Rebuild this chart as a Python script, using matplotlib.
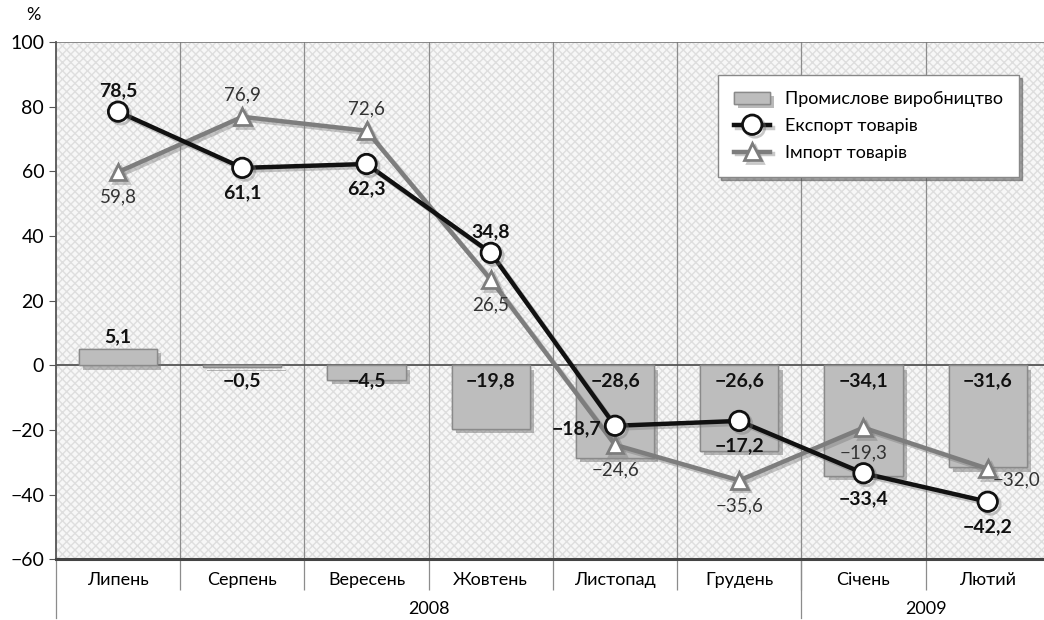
import matplotlib.pyplot as plt
import matplotlib.patheffects as pe
from matplotlib.patches import Rectangle
from matplotlib.transforms import blended_transform_factory

plt.rcParams['font.family'] = ['Lato', 'DejaVu Sans']

months = ['Липень', 'Серпень', 'Вересень', 'Жовтень', 'Листопад', 'Грудень', 'Січень', 'Лютий']
industry = [5.1, -0.5, -4.5, -19.8, -28.6, -26.6, -34.1, -31.6]
export = [78.5, 61.1, 62.3, 34.8, -18.7, -17.2, -33.4, -42.2]
imports = [59.8, 76.9, 72.6, 26.5, -24.6, -35.6, -19.3, -32.0]
years = ['2008', '2009']

# label placement (dx, dy in points)
export_pos = [(0, 15), (0, -18), (0, -18), (0, 15), (-28, -2), (0, -18), (0, -18), (0, -18)]
import_pos = [(0, -18), (0, 16), (0, 16), (0, -18), (0, -18), (0, -18), (0, -18), (21, -8)]


def fmt(v):
    s = ('%.1f' % abs(v)).replace('.', ',')
    return ('\u2212' + s) if v < 0 else s


fig = plt.figure(figsize=(10.44, 6.2), dpi=100)
ax = fig.add_axes([0.0536, 0.098, 0.952, 0.834])
x = list(range(len(months)))

ax.add_patch(Rectangle((0, 0), 1, 1, transform=ax.transAxes, facecolor='#f7f7f7',
                       edgecolor='#dedede', hatch='xxxx', lw=0, zorder=0))

for b in [i + 0.5 for i in range(len(months) - 1)]:
    ax.axvline(b, color='#8c8c8c', lw=0.9, zorder=1)
ax.axhline(0, color='#555555', lw=1.3, zorder=2)

bars = ax.bar(x, industry, width=0.63, color='#bdbdbd', edgecolor='#8a8a8a', lw=1, zorder=3,
              label='Промислове виробництво')
for b in bars:
    b.set_path_effects([pe.withSimplePatchShadow(offset=(3, -3), shadow_rgbFace='#777777', alpha=0.5),
                        pe.Normal()])

for i, v in enumerate(industry):
    yy = v + 1 if v > 0 else -2
    ax.text(i, yy, fmt(v), ha='center', va='bottom' if v > 0 else 'top', fontsize=14,
            fontweight='bold', color='#111111', zorder=6)

shadow = [pe.SimpleLineShadow(offset=(2, -2), shadow_color='#777777', alpha=0.4), pe.Normal()]
ax.plot(x, imports, color='#7d7d7d', lw=3.2, marker='^', markersize=12, markerfacecolor='white',
        markeredgecolor='#7d7d7d', markeredgewidth=2, zorder=4, label='Імпорт товарів',
        path_effects=shadow)
ax.plot(x, export, color='#111111', lw=3.2, marker='o', markersize=14, markerfacecolor='white',
        markeredgecolor='#111111', markeredgewidth=2, zorder=5, label='Експорт товарів',
        path_effects=shadow)

for i, v in enumerate(export):
    dx, dy = export_pos[i]
    ax.annotate(fmt(v), (i, v), xytext=(dx, dy), textcoords='offset points', ha='center',
                va='center', fontsize=14, fontweight='bold', color='#111111', zorder=7)
for i, v in enumerate(imports):
    dx, dy = import_pos[i]
    ax.annotate(fmt(v), (i, v), xytext=(dx, dy), textcoords='offset points', ha='center',
                va='center', fontsize=13.5, color='#333333', zorder=7)

ax.set_xlim(-0.5, len(months) - 0.5)
ax.set_ylim(-60, 100)
ax.set_yticks(range(-60, 101, 20))
ax.set_yticklabels([('\u2212' + str(abs(t))) if t < 0 else str(t) for t in range(-60, 101, 20)])
ax.tick_params(axis='y', labelsize=14, length=5, color='#555555')

ax.set_xticks(x)
ax.set_xticklabels(months)
ax.set_xticks([i + 0.5 for i in range(len(months) - 1)], minor=True)
ax.tick_params(axis='x', which='major', length=0, labelsize=13, pad=9)
ax.tick_params(axis='x', which='minor', length=22, width=0.9, color='#8c8c8c')

for s in ['top', 'right']:
    ax.spines[s].set_visible(False)
ax.axhline(100, color='#777777', lw=1.2, zorder=2)
ax.spines['left'].set_color('#555555')
ax.spines['left'].set_linewidth(1.3)
ax.spines['bottom'].set_color('#444444')
ax.spines['bottom'].set_linewidth(2.2)

trans = blended_transform_factory(ax.transData, ax.transAxes)
for xb in [-0.5, 5.5]:
    ax.plot([xb, xb], [0, -0.114], transform=trans, color='#8c8c8c', lw=0.9, clip_on=False)
ax.text(2.5, -0.097, years[0], transform=trans, ha='center', va='center', fontsize=13)
ax.text(6.5, -0.097, years[1], transform=trans, ha='center', va='center', fontsize=13)

fig.text(0.032, 0.975, '%', fontsize=13, ha='center', va='center')

h, l = ax.get_legend_handles_labels()
order = [l.index('Промислове виробництво'), l.index('Експорт товарів'), l.index('Імпорт товарів')]
leg = ax.legend([h[k] for k in order], [l[k] for k in order], loc='upper right',
                bbox_to_anchor=(0.978, 0.954), fontsize=13, frameon=True, fancybox=False,
                shadow=True, edgecolor='#888888', framealpha=1, borderpad=0.9,
                handlelength=2.0, labelspacing=0.6)
leg.set_zorder(10)

fig.savefig('out.png', dpi=100)
